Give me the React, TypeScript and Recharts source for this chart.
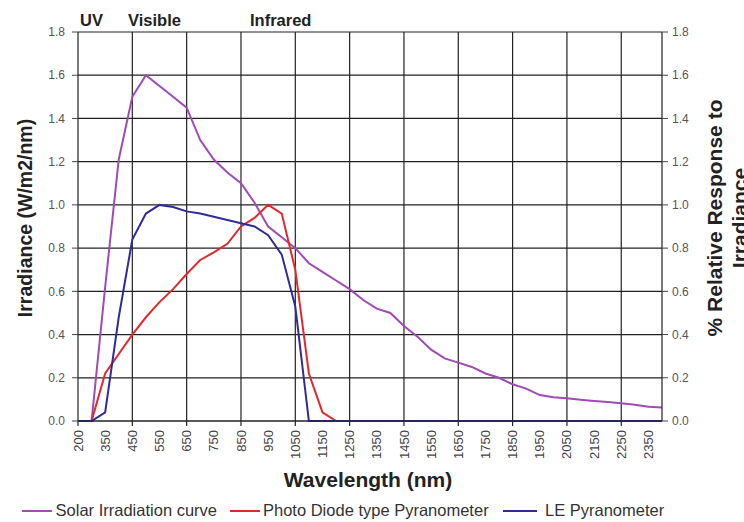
import React from 'react';
import {
  LineChart,
  Line,
  XAxis,
  YAxis,
  CartesianGrid,
  ReferenceLine,
  Legend,
} from 'recharts';

// wavelength categories (nm)
const wavelengths = [
  200, 300, 350, 400, 450, 500, 550, 600, 650, 700, 750, 800, 850, 900, 950,
  1000, 1050, 1100, 1150, 1200, 1250, 1300, 1350, 1400, 1450, 1500, 1550,
  1600, 1650, 1700, 1750, 1800, 1850, 1900, 1950, 2000, 2050, 2100, 2150,
  2200, 2250, 2300, 2350, 2400,
];

const solarIrradiation = [
  0, 0, 0.62, 1.21, 1.5, 1.6, 1.55, 1.5, 1.45, 1.3, 1.21, 1.15, 1.1, 1.01,
  0.9, 0.85, 0.8, 0.73, 0.69, 0.65, 0.61, 0.56, 0.52, 0.5, 0.44, 0.39, 0.33,
  0.29, 0.27, 0.25, 0.22, 0.2, 0.17, 0.15, 0.12, 0.11, 0.105, 0.098, 0.093,
  0.088, 0.082, 0.075, 0.066, 0.062,
];

// relative response (right axis)
const photoDiode = [
  0, 0, 0.22, 0.31, 0.4, 0.48, 0.55, 0.61, 0.68, 0.745, 0.78, 0.82, 0.9,
  0.94, 1.0, 0.96, 0.7, 0.22, 0.04, 0, 0, 0, 0, 0, 0, 0, 0, 0, 0, 0, 0, 0, 0,
  0, 0, 0, 0, 0, 0, 0, 0, 0, 0, 0,
];

const lePyranometer = [
  0, 0, 0.04, 0.48, 0.84, 0.96, 1.0, 0.99, 0.97, 0.96, 0.945, 0.93, 0.915,
  0.9, 0.86, 0.77, 0.53, 0, 0, 0, 0, 0, 0, 0, 0, 0, 0, 0, 0, 0, 0, 0, 0, 0,
  0, 0, 0, 0, 0, 0, 0, 0, 0, 0,
];

const yTicks = [0, 0.2, 0.4, 0.6, 0.8, 1.0, 1.2, 1.4, 1.6, 1.8];
// vertical grid lines every 200 nm
const gridWavelengths = [450, 650, 850, 1050, 1250, 1450, 1650, 1850, 2050, 2250];
const tickMarkWavelengths = [200, ...gridWavelengths];

const SOLAR = '#a04ab6';
const PHOTO = '#e2282c';
const LE = '#2e2c98';

const chartData = wavelengths.map((w, i) => ({
  wavelength: w,
  solar: solarIrradiation[i],
  photo: photoDiode[i],
  le: lePyranometer[i],
}));

const XTick = (props: any) => {
  const { x, y, payload } = props;
  const hasMark = tickMarkWavelengths.includes(payload.value);
  return (
    <g>
      {hasMark && <line x1={x} x2={x} y1={y} y2={y + 5} stroke="#222" strokeWidth={1.2} />}
      <text
        transform={`translate(${x},${y + 9}) rotate(-90)`}
        textAnchor="end"
        dy="0.35em"
        fontSize={13}
        fill="#444"
      >
        {payload.value}
      </text>
    </g>
  );
};

const LegendContent = () => (
  <svg width={744} height={20} style={{ display: 'block' }}>
    <line x1={22} x2={52} y1={9} y2={9} stroke={SOLAR} strokeWidth={2} />
    <text x={217} y={14} textAnchor="end" fontSize={16.5} fill="#333">Solar Irradiation curve</text>
    <line x1={230} x2={260} y1={9} y2={9} stroke={PHOTO} strokeWidth={2} />
    <text x={263} y={14} fontSize={16.5} fill="#333">Photo Diode type Pyranometer</text>
    <line x1={503} x2={537} y1={9} y2={9} stroke={LE} strokeWidth={2} />
    <text x={545} y={14} fontSize={16.5} fill="#333">LE Pyranometer</text>
  </svg>
);

export default function App() {
  return (
    <div
      style={{
        position: 'absolute',
        left: 0,
        top: 0,
        width: 744,
        height: 522,
        background: '#fff',
        fontFamily: '"Liberation Sans", Arial, sans-serif',
      }}
    >
      <LineChart
        width={744}
        height={522}
        data={chartData}
        margin={{ top: 32, right: 0, bottom: 0, left: 0 }}
      >
        <CartesianGrid vertical={false} stroke="#222" strokeWidth={1.2} />
        <XAxis
          dataKey="wavelength"
          height={81}
          interval={1}
          tickSize={0}
          tickMargin={0}
          tick={<XTick />}
          axisLine={{ stroke: '#222', strokeWidth: 1.2 }}
          tickLine={false}
        />
        <YAxis
          domain={[0, 1.8]}
          ticks={yTicks}
          width={78}
          tickSize={6}
          tickMargin={7}
          tickFormatter={(v: number) => v.toFixed(1)}
          tick={{ fontSize: 12, fill: '#555' }}
          axisLine={{ stroke: '#222', strokeWidth: 1.2 }}
          tickLine={{ stroke: '#444' }}
        />
        <YAxis
          yAxisId="right"
          orientation="right"
          domain={[0, 1.8]}
          ticks={yTicks}
          width={82}
          tickSize={6}
          tickMargin={4}
          tickFormatter={(v: number) => v.toFixed(1)}
          tick={{ fontSize: 12, fill: '#555' }}
          axisLine={{ stroke: '#222', strokeWidth: 1.2 }}
          tickLine={{ stroke: '#444' }}
        />
        {gridWavelengths.map((w) => (
          <ReferenceLine key={w} x={w} stroke="#222" strokeWidth={1.2} />
        ))}
        <Legend
          verticalAlign="bottom"
          height={20}
          content={<LegendContent />}
          wrapperStyle={{ left: 0, bottom: 0, width: 744 }}
        />
        <Line
          type="linear"
          dataKey="solar"
          stroke={SOLAR}
          strokeWidth={2}
          dot={false}
          isAnimationActive={false}
        />
        <Line
          type="linear"
          dataKey="photo"
          yAxisId="right"
          stroke={PHOTO}
          strokeWidth={2}
          dot={false}
          isAnimationActive={false}
        />
        <Line
          type="linear"
          dataKey="le"
          yAxisId="right"
          stroke={LE}
          strokeWidth={2}
          dot={false}
          isAnimationActive={false}
        />
        <text x={80} y={26} fontSize={16.5} fontWeight="bold" fill="#222">UV</text>
        <text x={128} y={26} fontSize={16.5} fontWeight="bold" fill="#222">Visible</text>
        <text x={250} y={26} fontSize={16.5} fontWeight="bold" fill="#222">Infrared</text>
        <text
          transform="translate(25,218) rotate(-90)"
          textAnchor="middle"
          dy="0.35em"
          fontSize={19.5}
          fontWeight="bold"
          fill="#222"
        >
          Irradiance (W/m2/nm)
        </text>
        <text
          transform="translate(715,218) rotate(-90)"
          textAnchor="middle"
          dy="0.35em"
          fontSize={21}
          fontWeight="bold"
          fill="#222"
        >
          % Relative Response to
        </text>
        <text
          transform="translate(740,218) rotate(-90)"
          textAnchor="middle"
          dy="0.35em"
          fontSize={21}
          fontWeight="bold"
          fill="#222"
        >
          Irradiance
        </text>
        <text x={368} y={487} textAnchor="middle" fontSize={21} fontWeight="bold" fill="#222">
          Wavelength (nm)
        </text>
      </LineChart>
    </div>
  );
}
